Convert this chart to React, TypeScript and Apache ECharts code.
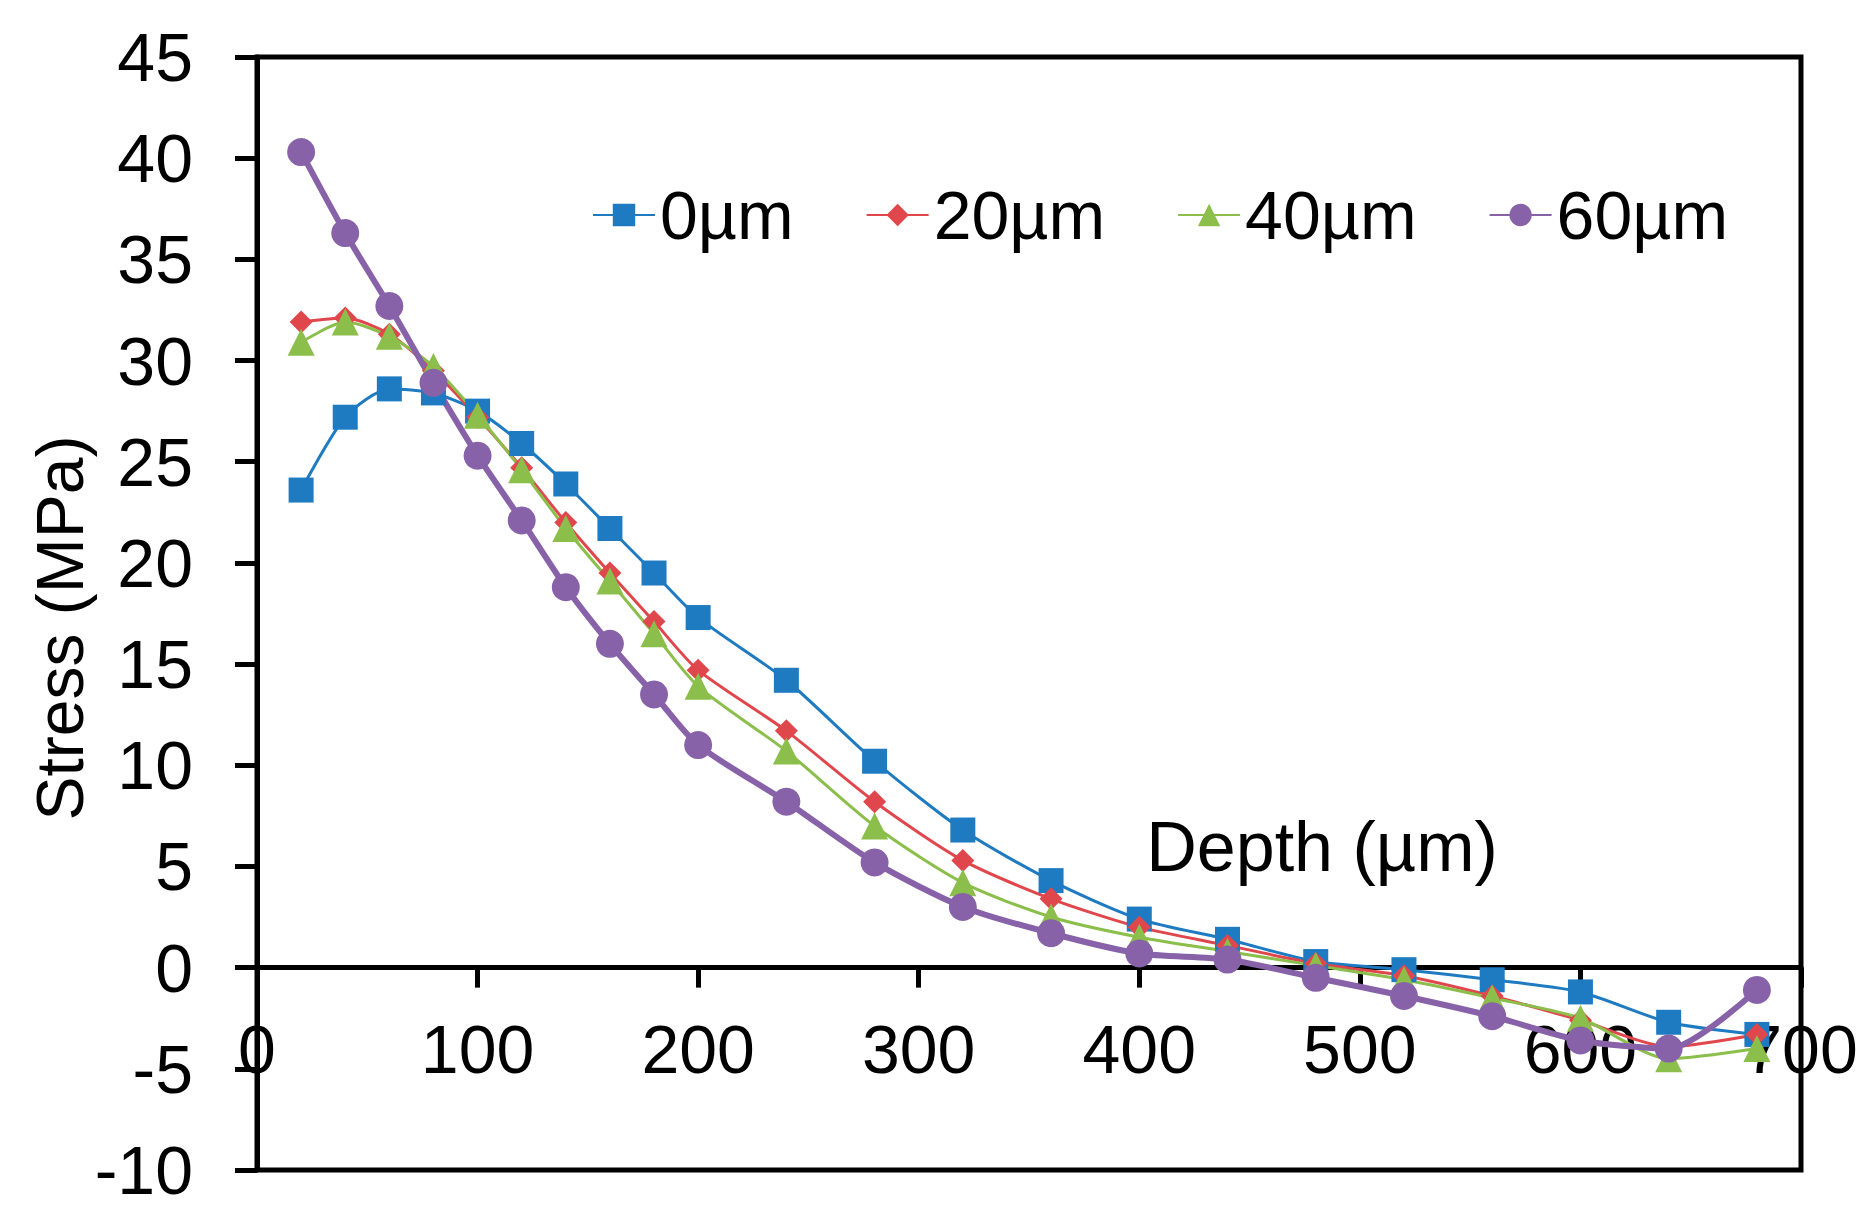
import React, { useEffect, useRef } from "react";
import * as echarts from "echarts";

const depth = [20, 40, 60, 80, 100, 120, 140, 160, 180, 200, 240, 280, 320, 360, 400, 440, 480, 520, 560, 600, 640, 680];
const s0 = [23.6, 27.2, 28.6, 28.4, 27.5, 25.9, 23.9, 21.7, 19.5, 17.3, 14.2, 10.2, 6.8, 4.3, 2.4, 1.4, 0.3, -0.1, -0.6, -1.2, -2.7, -3.3];
const s20 = [31.9, 32.1, 31.3, 29.5, 27.2, 24.7, 22.0, 19.5, 17.1, 14.7, 11.7, 8.2, 5.3, 3.4, 2.0, 1.1, 0.2, -0.4, -1.4, -2.6, -3.9, -3.3];
const s40 = [30.9, 31.9, 31.2, 29.7, 27.3, 24.6, 21.7, 19.1, 16.5, 13.9, 10.7, 7.0, 4.2, 2.5, 1.5, 0.8, 0.1, -0.6, -1.5, -2.5, -4.5, -4.0];
const s60 = [40.3, 36.3, 32.7, 28.9, 25.3, 22.1, 18.8, 16.0, 13.5, 11.0, 8.2, 5.2, 3.0, 1.7, 0.7, 0.4, -0.5, -1.4, -2.4, -3.6, -4.0, -1.1];
const seriesNames = ["0µm", "20µm", "40µm", "60µm"];
const yTitle = "Stress (MPa)";
const xTitle = "Depth (µm)";

const FONT = "'Liberation Sans', Arial, sans-serif";
const Y_MIN = -10;
const Y_MAX = 45;
const GRID_H = 1113;

export default function App() {
  const ref = useRef<HTMLDivElement>(null);
  useEffect(() => {
    document.body.style.margin = "0";
    const chart = echarts.init(ref.current!, null, { renderer: "svg" });
    const pair = (arr: number[]) => depth.map((d, i) => [d, arr[i]]);
    const mk = (name: string, arr: number[], color: string, symbol: string, size: number, width: number) => ({
      name,
      type: "line",
      data: pair(arr),
      smooth: 0.25,
      symbol,
      symbolSize: size,
      showSymbol: true,
      itemStyle: { color },
      lineStyle: { color, width },
      emphasis: { disabled: true },
    });
    // place the x axis on the zero line (distance from grid bottom to y=0)
    const zeroOffset = -(GRID_H * (0 - Y_MIN)) / (Y_MAX - Y_MIN);
    chart.setOption({
      animation: false,
      backgroundColor: "#fff",
      textStyle: { fontFamily: FONT },
      grid: {
        left: 257,
        top: 57,
        width: 1544,
        height: GRID_H,
        show: true,
        borderColor: "#000",
        borderWidth: 5,
        backgroundColor: "transparent",
        outerBoundsMode: "none",
        containLabel: false,
      },
      legend: {
        data: seriesNames,
        left: 587,
        top: 176,
        itemWidth: 62,
        itemHeight: 28,
        itemGap: 72,
        textStyle: { fontSize: 68, color: "#000", fontFamily: FONT },
      },
      xAxis: {
        type: "value",
        position: "bottom",
        offset: zeroOffset,
        min: 0,
        max: 700,
        interval: 100,
        axisLine: { show: true, onZero: false, lineStyle: { color: "#000", width: 5 } },
        axisTick: { show: true, length: 20, lineStyle: { color: "#000", width: 5 } },
        axisLabel: { fontSize: 68, color: "#000", margin: 47, fontFamily: FONT },
        splitLine: { show: false },
      },
      yAxis: {
        type: "value",
        min: Y_MIN,
        max: Y_MAX,
        interval: 5,
        axisLine: { show: true, onZero: false, lineStyle: { color: "#000", width: 5 } },
        axisTick: { show: true, length: 22, lineStyle: { color: "#000", width: 5 } },
        axisLabel: { fontSize: 68, color: "#000", margin: 64, fontFamily: FONT },
        splitLine: { show: false },
      },
      graphic: [
        {
          type: "text",
          x: 60,
          y: 628,
          rotation: Math.PI / 2,
          style: {
            text: yTitle,
            fontSize: 66,
            fontFamily: FONT,
            fill: "#000",
            textAlign: "center",
            textVerticalAlign: "middle",
          },
        },
        {
          type: "text",
          x: 1322,
          y: 847,
          style: {
            text: xTitle,
            fontSize: 70,
            fontFamily: FONT,
            fill: "#000",
            textAlign: "center",
            textVerticalAlign: "middle",
          },
        },
      ],
      series: [
        mk(seriesNames[0], s0, "#1F7BC1", "rect", 25, 3),
        mk(seriesNames[1], s20, "#E0474C", "diamond", 23, 3),
        mk(seriesNames[2], s40, "#8BBE4B", "triangle", 27, 3),
        mk(seriesNames[3], s60, "#8862A9", "circle", 28, 6),
      ],
    });
    return () => chart.dispose();
  }, []);
  return <div ref={ref} style={{ width: 1869, height: 1210 }} />;
}
